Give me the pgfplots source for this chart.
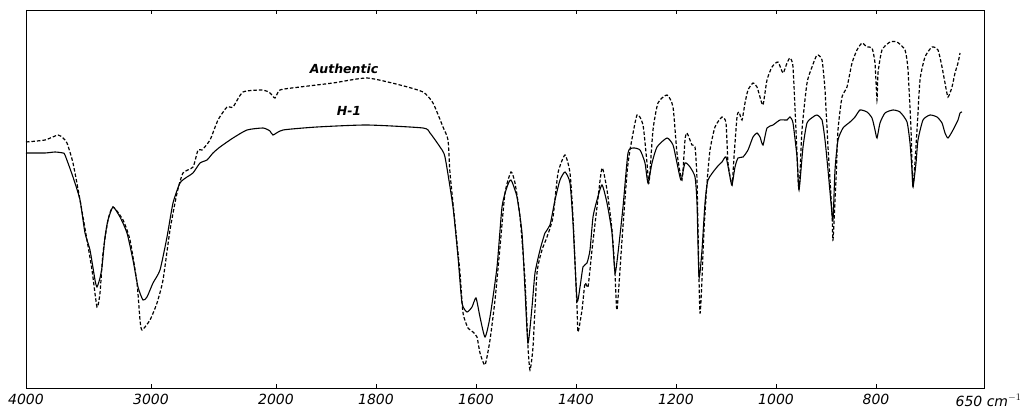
\documentclass[border=0pt]{standalone}
\usepackage{pgfplots}
\pgfplotsset{compat=1.18}
\usepackage{fontspec}
\setmainfont{DejaVu Sans}
\begin{document}
\begin{tikzpicture}
\begin{axis}[
  scale only axis, width=958pt, height=378pt,
  xmin=4000, xmax=584, ymin=0, ymax=378,
  x coord trafo/.code={\pgfmathparse{276+(2000-#1)*0.125+(2000-min(#1,2000))*0.375}},
  xtick={4000,3000,2000,1800,1600,1400,1200,1000,800},
  xticklabels={4000,3000,2000,1800,1600,1400,1200,1000,800},
  extra x ticks={650},
  extra x tick labels={650\rlap{ cm$^{-1}$}},
  extra x tick style={major tick length=0pt, xticklabel style={xshift=18pt}},
  ytick=\empty,
  tick align=inside, major tick length=4pt,
  tick style={black, line width=0.8pt},
  axis line style={line width=0.9pt},
  xticklabel style={font=\fontsize{14}{14}\selectfont\itshape, yshift=-3pt},
  clip=false,
]
% H-1 (solid)
\addplot[black, line width=1.1pt, smooth, tension=0.35] coordinates {
(4000,235)(3848,235)(3768,236)(3704,235)(3688,233)(3624,211)(3568,188)(3528,155)
(3488,138)(3448,108)(3432,101)(3408,110)(3392,121)(3368,151)(3344,168)(3304,181)
(3248,171)(3192,155)(3144,128)(3104,101)(3064,88)(3032,91)(2984,105)(2928,118)
(2872,151)(2824,185)(2768,205)(2712,211)(2664,215)(2608,225)(2552,228)(2504,235)
(2448,241)(2344,250)(2232,258)(2104,260)(2048,257)(2024,253)(1986,258)(1918,261)
(1818,263)(1706,260)(1692,255)(1672,241)(1662,231)(1646,181)(1636,131)(1628,85)
(1618,76)(1608,81)(1600,90)(1592,71)(1582,51)(1572,71)(1558,121)(1548,181)
(1538,201)(1530,208)(1518,191)(1508,155)(1502,98)(1496,45)(1488,81)(1482,115)
(1472,138)(1462,155)(1452,163)(1442,188)(1432,208)(1422,216)(1412,205)(1406,165)
(1398,88)(1392,101)(1386,121)(1378,125)(1372,138)(1366,171)(1358,188)(1348,203)
(1338,185)(1328,155)(1322,115)(1316,135)(1306,181)(1296,235)(1286,240)(1272,238)
(1262,225)(1256,205)(1248,225)(1238,241)(1218,250)(1206,243)(1198,225)(1190,208)
(1182,225)(1172,221)(1162,211)(1158,185)(1154,111)(1148,138)(1142,185)(1136,208)
(1118,221)(1108,226)(1100,231)(1092,211)(1088,203)(1082,221)(1076,230)(1066,231)
(1056,238)(1046,251)(1038,255)(1032,251)(1026,243)(1018,260)(1006,263)(992,268)
(978,268)(972,271)(966,265)(958,231)(954,198)(946,241)(938,265)(926,271)
(918,273)(908,268)(902,248)(896,218)(890,185)(886,168)(882,218)(876,248)
(866,260)(852,266)(842,271)(832,278)(818,276)(808,270)(802,258)(798,250)
(792,265)(782,275)(766,278)(752,276)(738,266)(732,245)(728,218)(726,201)
(720,225)(716,248)(706,268)(692,273)(678,271)(668,265)(662,255)(656,250)
(646,258)(636,268)(632,275)(628,276)
};
% Authentic (dashed)
\addplot[black, line width=1.2pt, dash pattern=on 3.5pt off 2pt, smooth, tension=0.35] coordinates {
(4000,246)(3848,248)(3744,253)(3704,250)(3672,245)(3624,225)(3568,188)(3512,148)
(3472,118)(3432,81)(3408,95)(3384,135)(3344,168)(3304,181)(3224,168)(3168,148)
(3112,105)(3088,68)(3072,58)(3008,68)(2952,85)(2904,108)(2848,158)(2792,195)
(2744,215)(2664,221)(2624,238)(2592,238)(2528,248)(2464,268)(2392,281)(2344,281)
(2264,296)(2104,298)(2048,295)(2008,290)(1992,298)(1952,301)(1886,305)(1818,310)
(1752,303)(1706,296)(1686,285)(1666,261)(1656,248)(1652,215)(1642,165)(1632,115)
(1626,75)(1616,60)(1606,56)(1598,51)(1592,35)(1582,23)(1572,48)(1562,88)
(1552,141)(1542,195)(1530,216)(1522,205)(1512,171)(1502,108)(1496,41)(1492,18)
(1486,41)(1478,115)(1468,138)(1458,151)(1446,171)(1436,215)(1422,233)(1412,215)
(1406,171)(1398,81)(1396,56)(1388,78)(1382,105)(1376,101)(1368,138)(1358,181)
(1348,220)(1338,198)(1328,158)(1322,115)(1318,78)(1308,148)(1298,215)(1292,238)
(1278,273)(1266,263)(1258,225)(1254,205)(1246,258)(1236,285)(1218,293)(1206,281)
(1198,235)(1188,208)(1182,248)(1178,255)(1168,243)(1162,241)(1158,208)(1152,75)
(1144,158)(1138,205)(1132,238)(1122,261)(1108,271)(1100,265)(1096,225)(1088,203)
(1084,231)(1078,271)(1074,276)(1068,268)(1062,285)(1056,298)(1046,305)(1038,301)
(1032,291)(1026,283)(1018,308)(1008,321)(996,326)(986,315)(978,325)(972,330)
(966,321)(960,258)(954,198)(948,258)(938,305)(928,321)(918,333)(908,328)
(902,298)(896,241)(888,175)(886,148)(880,208)(876,258)(868,291)(858,301)
(848,325)(838,338)(828,345)(818,341)(808,340)(802,325)(798,288)(796,315)
(788,338)(772,346)(758,346)(742,338)(736,318)(730,258)(726,201)(718,258)
(712,308)(702,331)(688,341)(676,338)(668,321)(662,305)(656,291)(648,301)
(642,315)(636,325)(632,335)
};
\node[font=\fontsize{12.5}{12.5}\selectfont\bfseries\itshape] at (axis cs:1864,319) {Authentic};
\node[font=\fontsize{12.5}{12.5}\selectfont\bfseries\itshape] at (axis cs:1854,277) {H-1};
\end{axis}
\path (current axis.south west) ++(-26pt,-25pt) coordinate (bbA);
\path (current axis.north east) ++(42pt,10pt) coordinate (bbB);
\path (bbA) rectangle (bbB);
\end{tikzpicture}
\end{document}
